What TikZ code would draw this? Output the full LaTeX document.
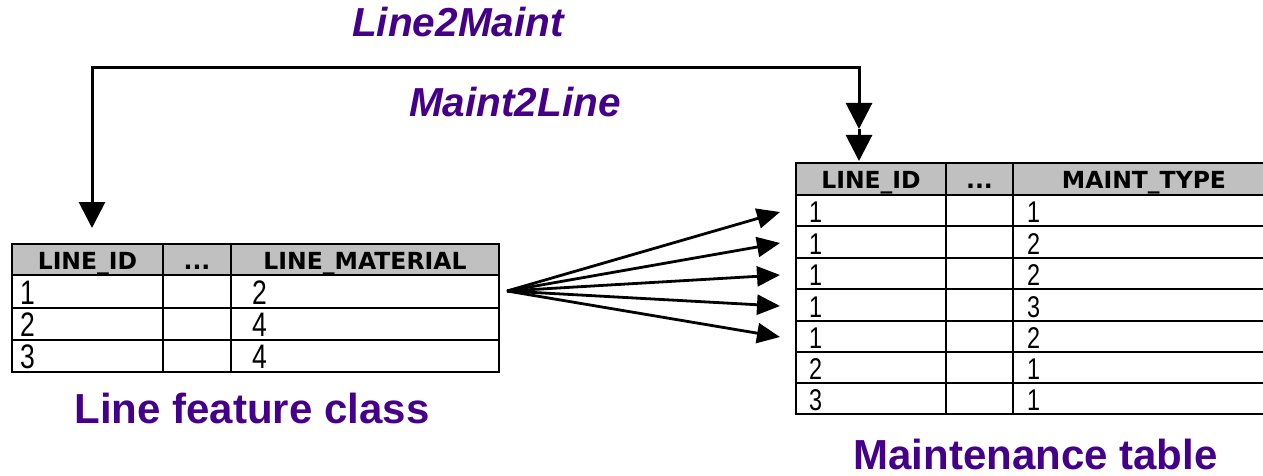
\documentclass[tikz,border=0pt]{standalone}
\usepackage{graphicx}
\usepackage{fontspec}
\setmainfont{Liberation Sans}
\newfontfamily\hdrfont{DejaVu Sans}
\usetikzlibrary{arrows.meta}
\definecolor{titlepurple}{RGB}{68,0,136}
\definecolor{hdrgray}{RGB}{192,192,192}
\newcommand{\nar}[1]{\scalebox{0.78}[1]{#1}}

\begin{document}
\begin{tikzpicture}[x=1pt,y=-1pt,
  grid/.style={line width=2.5pt},
  conn/.style={line width=3pt},
  vtip/.style={-{Triangle[length=26pt,width=26pt]}},
  fan/.style={line width=2.8pt,-{Triangle[length=23pt,width=20pt]}},
  hdr/.style={anchor=base,inner sep=0pt,font=\hdrfont\bfseries\fontsize{23.5}{26}\selectfont},
  lcell/.style={anchor=base west,inner sep=0pt,font=\fontsize{34}{36}\selectfont},
  rcell/.style={anchor=base west,inner sep=0pt,font=\fontsize{30}{32}\selectfont},
  relname/.style={anchor=base,inner sep=0pt,text=titlepurple,font=\bfseries\itshape\fontsize{40.5}{44}\selectfont},
  title/.style={anchor=base,inner sep=0pt,text=titlepurple,font=\bfseries\fontsize{42}{46}\selectfont}]
\useasboundingbox (0,0) rectangle (1263,476);

% ---- Line feature class table ----
\fill[hdrgray] (12,244) rectangle (499,275);
\draw[grid] (12,244) rectangle (499,372);
\foreach \y in {275,308,340} \draw[grid] (12,\y) -- (499,\y);
\foreach \x in {163,231} \draw[grid] (\x,244) -- (\x,372);

\node[hdr] (lh1) at (87.5,269) {LINE\_ID};
\node[hdr] (lh2) at (197,269) {...};
\node[hdr] (lh3) at (365,269) {LINE\_MATERIAL};

\node[lcell] (la1) at (20,304) {\nar{1}};
\node[lcell] (la2) at (20,336) {\nar{2}};
\node[lcell] (la3) at (20,368) {\nar{3}};
\node[lcell] (lc1) at (252,304) {\nar{2}};
\node[lcell] (lc2) at (252,336) {\nar{4}};
\node[lcell] (lc3) at (252,368) {\nar{4}};

\node[title] (ltitle) at (252,423) {Line feature class};

% ---- Maintenance table (runs off the right edge) ----
\fill[hdrgray] (796,163) rectangle (1263,195);
\draw[grid] (1263,163) -- (796,163) -- (796,414) -- (1263,414);
\foreach \y in {195,226,258,289,321,352,383} \draw[grid] (796,\y) -- (1263,\y);
\foreach \x in {946,1013} \draw[grid] (\x,163) -- (\x,414);

\node[hdr] (rh1) at (871,188) {LINE\_ID};
\node[hdr] (rh2) at (979.5,188) {...};
\node[hdr] (rh3) at (1144,188) {MAINT\_TYPE};

\foreach \i/\b/\a/\c in {1/222/1/1,2/254/1/2,3/285/1/2,4/317/1/3,5/348/1/2,6/379/2/1,7/410/3/1}{
  \node[rcell] (ra\i) at (809,\b) {\nar{\a}};
  \node[rcell] (rc\i) at (1027,\b) {\nar{\c}};
}

\node[title] (rtitle) at (1035.5,469) {Maintenance table};

% ---- one-to-many fan from the line row to the maintenance rows ----
\coordinate (src) at (507,291);
\coordinate (t1) at (780,212);
\coordinate (t2) at (780,243);
\coordinate (t3) at (780,275);
\coordinate (t4) at (780,306);
\coordinate (t5) at (780,337);
\foreach \i in {1,...,5} \draw[fan] (src) -- (t\i);

% ---- relationship class connector ----
\coordinate (cL) at (92,68);
\coordinate (cR) at (859,68);
\coordinate (lt) at (92,228);
\coordinate (rm) at (859,129);
\coordinate (rt) at (859,161);
\draw[conn,vtip] (cR) -- (cL) -- (lt);
\draw[conn,vtip] (cL) -- (cR) -- (rm);
\draw[conn,vtip] (rm) -- (rt);

\node[relname] (fwd) at (458,37) {Line2Maint};
\node[relname] (bwd) at (515,117) {Maint2Line};
\end{tikzpicture}
\end{document}
